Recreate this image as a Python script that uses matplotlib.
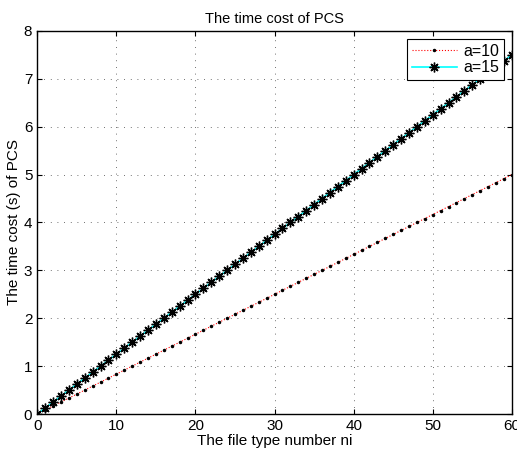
import numpy as np
import matplotlib.pyplot as plt

plt.rcParams['font.family'] = ['Liberation Sans', 'DejaVu Sans']

ni = np.arange(0, 61)
cost_a10 = ni / 12.0
cost_a15 = ni / 8.0

fig = plt.figure(figsize=(5.17, 4.55), dpi=100)
ax = fig.add_axes([0.072, 0.090, 0.918, 0.842])

ax.plot(ni, cost_a10, color='red', linestyle=':', linewidth=0.8,
        marker='.', markersize=3, markeredgecolor='black', markerfacecolor='black', label='a=10')
ax.plot(ni, cost_a15, color='cyan', linestyle='-', linewidth=1.2,
        marker=(8, 2, 0), markersize=7, markeredgecolor='black', markerfacecolor='black',
        markeredgewidth=1.0, label='a=15')

ax.set_xlim(0, 60)
ax.set_ylim(0, 8)
ax.set_xticks(range(0, 61, 10))
ax.set_yticks(range(0, 9))
ax.grid(True, color='0.25', linestyle=(0, (1, 7)), linewidth=0.6)
ax.tick_params(direction='in', top=True, right=True, labelsize=11)
for s in ax.spines.values():
    s.set_linewidth(1.0)

ax.set_title('The time cost of PCS', fontsize=10.5)
ax.set_xlabel('The file type number ni', fontsize=11, labelpad=1)
ax.set_ylabel('The time cost (s) of PCS', fontsize=11, labelpad=2)

leg = ax.legend(loc='upper right', fontsize=11.5, fancybox=False, framealpha=1,
                edgecolor='black', borderaxespad=0.5, handlelength=2.8,
                borderpad=0.3, labelspacing=0.1, handletextpad=0.4)
leg.get_frame().set_linewidth(0.8)

fig.savefig('out.png', dpi=100)
